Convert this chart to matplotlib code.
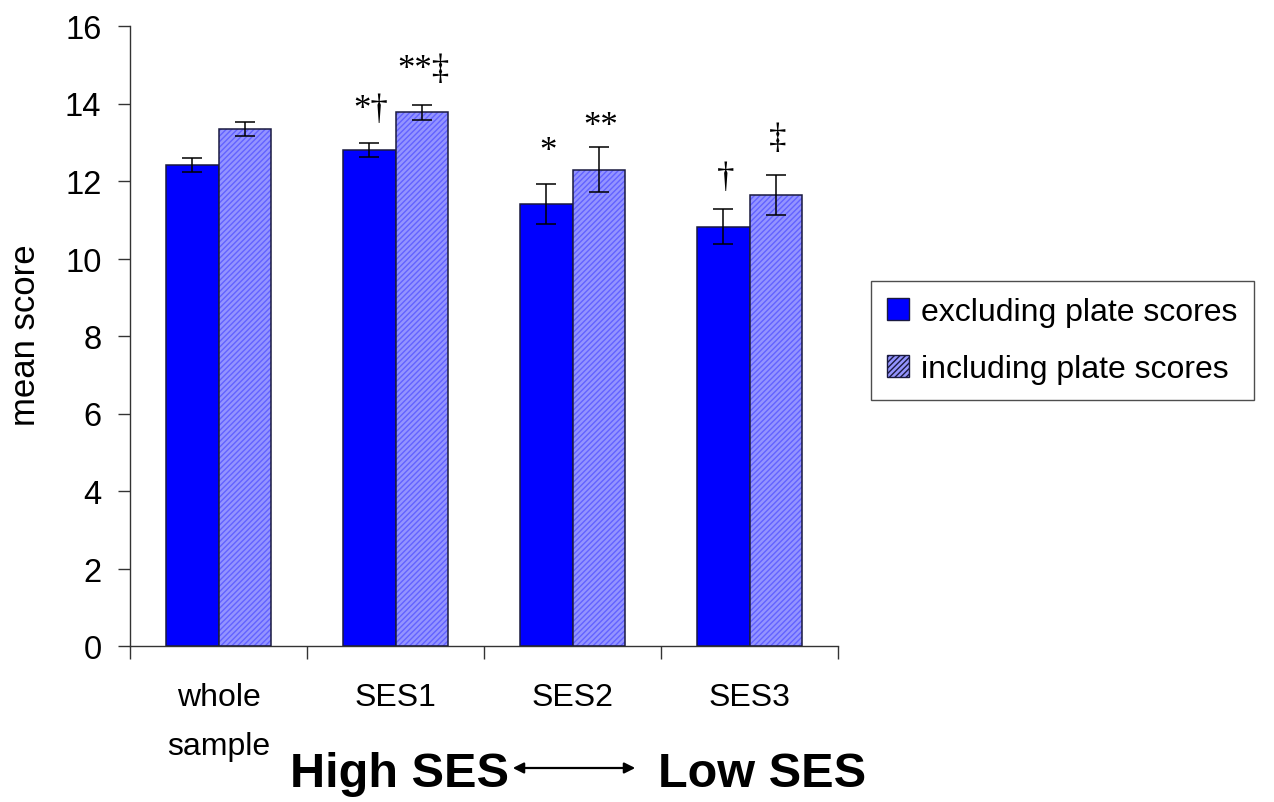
import matplotlib
matplotlib.use("Agg")
import matplotlib.pyplot as plt
from matplotlib.patches import Patch, FancyArrowPatch
import numpy as np

plt.rcParams['font.family'] = ['Liberation Sans', 'DejaVu Sans']

categories = ["whole\nsample", "SES1", "SES2", "SES3"]
excl_vals = [12.42, 12.80, 11.40, 10.82]
excl_err = [0.18, 0.17, 0.52, 0.45]
incl_vals = [13.33, 13.77, 12.29, 11.64]
incl_err = [0.18, 0.20, 0.58, 0.52]
excl_marks = ["", "*\u2020", "*", "\u2020"]
incl_marks = ["", "**\u2021", "**", "\u2021"]
excl_mark_y = [None, 13.85, 12.75, 12.1]
incl_mark_y = [None, 14.88, 13.4, 13.1]

fig = plt.figure(figsize=(12.74, 8.03), dpi=100)
ax = fig.add_axes([130/1274, 1-647/803, (838-130)/1274, (647-27)/803])

x = np.arange(len(categories))
w = 0.295
dark = '#0000ff'
light = '#9494ff'
edge = '#1a1a40'

ax.bar(x - w/2, excl_vals, w, color=dark, edgecolor=edge, linewidth=1.1, zorder=2)
# hatched light bars
ax.bar(x + w/2, incl_vals, w, color=light, edgecolor='#6262ff', linewidth=0,
       hatch='//////', zorder=2)
ax.bar(x + w/2, incl_vals, w, fill=False, edgecolor=edge, linewidth=1.1, zorder=3)

ax.errorbar(x - w/2, excl_vals, yerr=excl_err, fmt='none', ecolor='black',
            elinewidth=1.1, capsize=7.5, capthick=1.1, zorder=4)
ax.errorbar(x + w/2, incl_vals, yerr=incl_err, fmt='none', ecolor='black',
            elinewidth=1.1, capsize=7.5, capthick=1.1, zorder=4)

for i in range(len(categories)):
    if excl_marks[i]:
        ax.text(x[i] - w/2 + 0.01, excl_mark_y[i], excl_marks[i], ha='center', va='center',
                fontsize=25, family=['Liberation Serif', 'DejaVu Serif'])
    if incl_marks[i]:
        ax.text(x[i] + w/2 + 0.01, incl_mark_y[i], incl_marks[i], ha='center', va='center',
                fontsize=25, family=['Liberation Serif', 'DejaVu Serif'])

ax.set_xlim(-0.5, 3.5)
ax.set_ylim(0, 16)
ax.set_yticks(np.arange(0, 17, 2))
ax.set_xticks(x)
ax.set_xticklabels(categories, fontsize=23, linespacing=1.8, va='top')
ax.set_xticks(np.arange(-0.5, 4.0, 1.0), minor=True)
ax.tick_params(axis='x', which='major', length=0, pad=26)
ax.tick_params(axis='x', which='minor', length=9.4, width=1, direction='out', color='#333333')
ax.tick_params(axis='y', length=8.6, width=1, direction='out', labelsize=23.5, color='#333333', pad=12)
for s in ['top', 'right']:
    ax.spines[s].set_visible(False)
for s in ['left', 'bottom']:
    ax.spines[s].set_color('#333333')
    ax.spines[s].set_linewidth(1)

ax.set_ylabel("mean score", fontsize=25)
ax.yaxis.label.set_verticalalignment('center')
ax.yaxis.label.set_horizontalalignment('center')
ax.yaxis.set_label_coords(-0.148, 0.503)

handles = [Patch(facecolor=dark, edgecolor=edge, label='excluding plate scores'),
           Patch(facecolor=light, edgecolor=edge, hatch='//////', label='including plate scores')]
leg = fig.legend(handles=handles, loc='upper left', bbox_to_anchor=(871/1274, 1-282/803),
                 fontsize=23, frameon=True, fancybox=False, edgecolor='#222222',
                 handlelength=0.68, handleheight=0.68, handletextpad=0.4,
                 borderpad=0.5, labelspacing=0.85, borderaxespad=0)
leg.get_frame().set_linewidth(1)

fig.text(290/1274, 1-775/803, "High SES", fontsize=35, fontweight='bold', ha='left', va='center')
fig.text(658/1274, 1-775/803, "Low SES", fontsize=35, fontweight='bold', ha='left', va='center')
arr = FancyArrowPatch((510/1274, 1-769/803), (638/1274, 1-769/803), transform=fig.transFigure,
                      arrowstyle='<|-|>', mutation_scale=16, color='black', lw=1.6)
fig.add_artist(arr)

fig.savefig("out.png", dpi=100)
